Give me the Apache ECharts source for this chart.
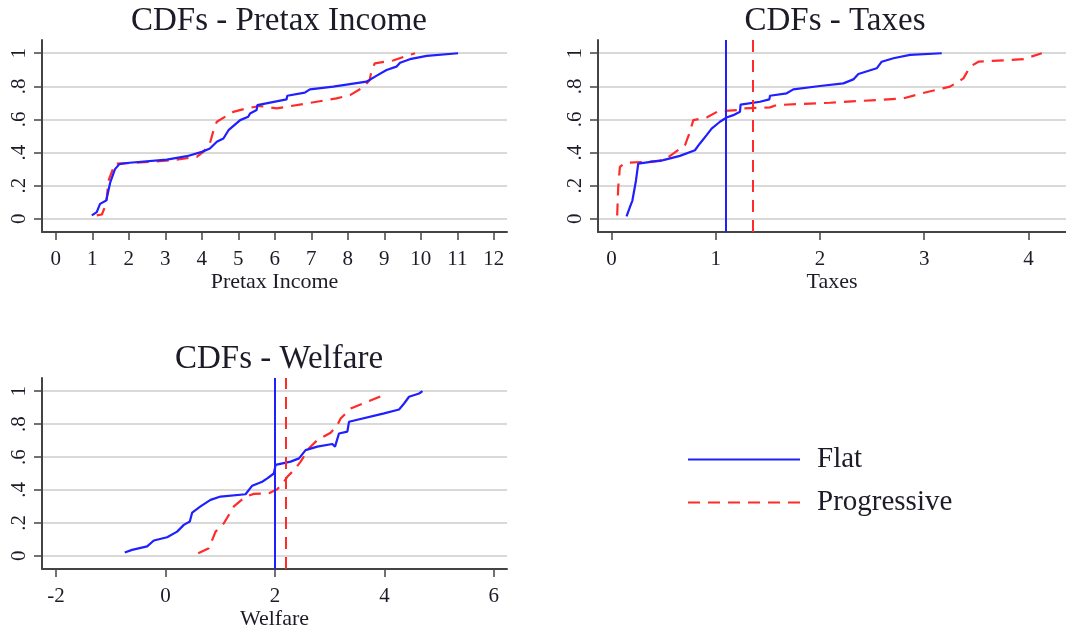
<!DOCTYPE html>
<html>
<head>
<meta charset="utf-8">
<script src="https://cdn.jsdelivr.net/npm/echarts@6/dist/echarts.min.js"></script>
<style>
html,body{margin:0;padding:0;background:#fff;}
#chart{width:1066px;height:631px;}
</style>
</head>
<body>
<div id="chart"></div>
<script>
// ---- Data (x value, cumulative share) ----
const pretaxFlat = [[0.985,0.02],[1.12,0.04],[1.21,0.09],[1.38,0.11],[1.49,0.22],[1.62,0.30],[1.74,0.33],[1.94,0.337],[3.04,0.357],[3.59,0.378],[4.0,0.404],[4.22,0.424],[4.41,0.465],[4.59,0.485],[4.73,0.535],[5.05,0.596],[5.27,0.616],[5.32,0.636],[5.50,0.657],[5.52,0.687],[6.32,0.721],[6.34,0.743],[6.82,0.762],[6.96,0.782],[7.60,0.798],[8.51,0.828],[8.78,0.863],[9.06,0.899],[9.33,0.919],[9.43,0.943],[9.70,0.964],[10.16,0.984],[11.02,1.0]];
const pretaxProg = [[1.12,0.02],[1.26,0.026],[1.38,0.09],[1.44,0.23],[1.62,0.333],[2.13,0.337],[3.22,0.354],[3.86,0.374],[4.04,0.404],[4.22,0.455],[4.32,0.535],[4.41,0.586],[4.86,0.646],[5.23,0.667],[5.59,0.681],[6.05,0.667],[6.96,0.70],[7.69,0.727],[8.06,0.747],[8.42,0.794],[8.60,0.838],[8.65,0.899],[8.74,0.939],[9.24,0.956],[9.56,0.98],[9.84,1.0]];
const taxFlat = [[0.144,0.014],[0.176,0.07],[0.20,0.11],[0.234,0.23],[0.256,0.333],[0.496,0.354],[0.656,0.38],[0.80,0.414],[0.848,0.455],[0.912,0.505],[0.96,0.545],[1.04,0.586],[1.104,0.612],[1.168,0.626],[1.232,0.646],[1.238,0.69],[1.424,0.707],[1.514,0.721],[1.52,0.743],[1.68,0.758],[1.744,0.782],[2.0,0.802],[2.224,0.818],[2.32,0.842],[2.368,0.875],[2.544,0.909],[2.592,0.949],[2.704,0.97],[2.864,0.99],[3.168,1.0]];
const taxProg = [[0.054,0.02],[0.064,0.19],[0.08,0.313],[0.128,0.337],[0.496,0.35],[0.592,0.394],[0.704,0.444],[0.752,0.525],[0.784,0.596],[0.912,0.612],[1.024,0.65],[1.232,0.657],[1.264,0.667],[1.52,0.673],[1.584,0.687],[2.096,0.701],[2.8,0.727],[2.976,0.758],[3.248,0.798],[3.376,0.848],[3.44,0.919],[3.52,0.949],[3.952,0.964],[4.128,1.0]];
const welfareFlat = [[-0.744,0.02],[-0.61,0.036],[-0.335,0.057],[-0.213,0.093],[0.03,0.113],[0.213,0.147],[0.335,0.188],[0.445,0.208],[0.488,0.263],[0.64,0.30],[0.823,0.34],[1.006,0.36],[1.463,0.374],[1.585,0.426],[1.768,0.45],[1.86,0.47],[1.98,0.50],[2.012,0.552],[2.287,0.572],[2.44,0.592],[2.56,0.642],[2.774,0.663],[3.049,0.679],[3.098,0.663],[3.17,0.743],[3.323,0.754],[3.354,0.814],[3.994,0.865],[4.268,0.889],[4.36,0.925],[4.45,0.966],[4.634,0.986],[4.695,1.0]];
const welfareProg = [[0.598,0.016],[0.793,0.046],[0.915,0.147],[1.067,0.198],[1.25,0.30],[1.463,0.36],[1.616,0.376],[1.89,0.38],[2.043,0.404],[2.165,0.45],[2.226,0.48],[2.348,0.521],[2.47,0.572],[2.622,0.653],[2.774,0.703],[3.018,0.747],[3.14,0.794],[3.20,0.834],[3.384,0.895],[3.689,0.935],[4.024,0.982]];
const taxMeans = [1.10, 1.35];      // Flat, Progressive
const welfareMeans = [2.0, 2.2];    // Flat, Progressive
const pretaxTicks = [0,1,2,3,4,5,6,7,8,9,10,11,12];
const taxTicks = [0,1,2,3,4];
const welfareTicks = [-2,0,2,4,6];
const yTicks = [0,0.2,0.4,0.6,0.8,1];
const titles = ['CDFs - Pretax Income','CDFs - Taxes','CDFs - Welfare'];
const axisNames = ['Pretax Income','Taxes','Welfare'];
const seriesNames = ['Flat','Progressive'];

const FONT = '"Liberation Serif", "Times New Roman", serif';
const BLUE = '#1f1fff';
const RED = '#ff2a2a';
const TXT = '#1c1c28';

function yLabel(v){
  if (Math.abs(v) < 1e-9) return '0';
  if (Math.abs(v-1) < 1e-9) return '1';
  return '.' + Math.round(v*10);
}

function xAxisCfg(idx, min, max, ticks){
  return {
    type:'value', gridIndex: idx, min: min, max: max,
    name: axisNames[idx], nameLocation:'middle', nameGap: 36,
    nameTextStyle:{fontFamily:FONT, fontSize:22, color:TXT},
    axisLine:{show:true, onZero:false, lineStyle:{color:'#444', width:2}},
    axisTick:{show:true, length:8, customValues: ticks, lineStyle:{color:'#444', width:1.5}},
    axisLabel:{customValues: ticks, margin:17, fontFamily:FONT, fontSize:21, color:TXT},
    splitLine:{show:false}
  };
}
function yAxisCfg(idx){
  return {
    type:'value', gridIndex: idx, min:-0.08, max:1.08,
    axisLine:{show:true, onZero:false, lineStyle:{color:'#444', width:2}},
    axisTick:{show:true, length:8, customValues: yTicks, lineStyle:{color:'#444', width:1.5}},
    axisLabel:{customValues: yTicks, rotate:90, margin:12, fontFamily:FONT, fontSize:21, color:TXT, formatter: yLabel},
    splitLine:{show:true, lineStyle:{color:'#d9d9d9', width:2}}
  };
}
function lineSeries(idx, nameIdx, data, mean){
  const dashed = nameIdx === 1;
  const color = dashed ? RED : BLUE;
  const s = {
    type:'line', name: seriesNames[nameIdx], xAxisIndex: idx, yAxisIndex: idx,
    data: data, symbol:'none', showSymbol:false, animation:false, silent:true,
    lineStyle:{color: color, width:2.2, type: dashed ? [12,8] : 'solid'},
    itemStyle:{color: color}
  };
  if (mean !== undefined){
    s.markLine = {
      silent:true, symbol:['none','none'], animation:false,
      label:{show:false},
      lineStyle:{color: color, width:2, type: dashed ? [12,8] : 'solid'},
      data:[{xAxis: mean}]
    };
  }
  return s;
}

const chart = echarts.init(document.getElementById('chart'), null, {renderer:'canvas'});
chart.setOption({
  backgroundColor:'#fff',
  animation:false,
  title: [
    {text: titles[0], left: 274, top: 0, textAlign:'center', textStyle:{fontFamily:FONT, fontSize:33, fontWeight:'normal', color:TXT}},
    {text: titles[1], left: 830, top: 0, textAlign:'center', textStyle:{fontFamily:FONT, fontSize:33, fontWeight:'normal', color:TXT}},
    {text: titles[2], left: 274, top: 338, textAlign:'center', textStyle:{fontFamily:FONT, fontSize:33, fontWeight:'normal', color:TXT}}
  ],
  legend: {
    orient:'vertical', left: 682, top: 440,
    data: seriesNames,
    itemWidth: 112, itemHeight: 14, itemGap: 14,
    itemStyle:{opacity:0},
    textStyle:{fontFamily:FONT, fontSize:29, color:TXT, padding:[0,0,0,12]},
    selectedMode:false
  },
  grid: [
    {left:42, top:40, width:465, height:192},
    {left:598, top:40, right:0, height:192},
    {left:42, top:378, width:465, height:191}
  ],
  xAxis: [
    xAxisCfg(0, -0.38, 12.36, pretaxTicks),
    xAxisCfg(1, -0.13, 4.36, taxTicks),
    xAxisCfg(2, -2.256, 6.24, welfareTicks)
  ],
  yAxis: [yAxisCfg(0), yAxisCfg(1), yAxisCfg(2)],
  series: [
    lineSeries(0, 1, pretaxProg),
    lineSeries(0, 0, pretaxFlat),
    lineSeries(1, 1, taxProg, taxMeans[1]),
    lineSeries(1, 0, taxFlat, taxMeans[0]),
    lineSeries(2, 1, welfareProg, welfareMeans[1]),
    lineSeries(2, 0, welfareFlat, welfareMeans[0])
  ]
});
</script>
</body>
</html>
